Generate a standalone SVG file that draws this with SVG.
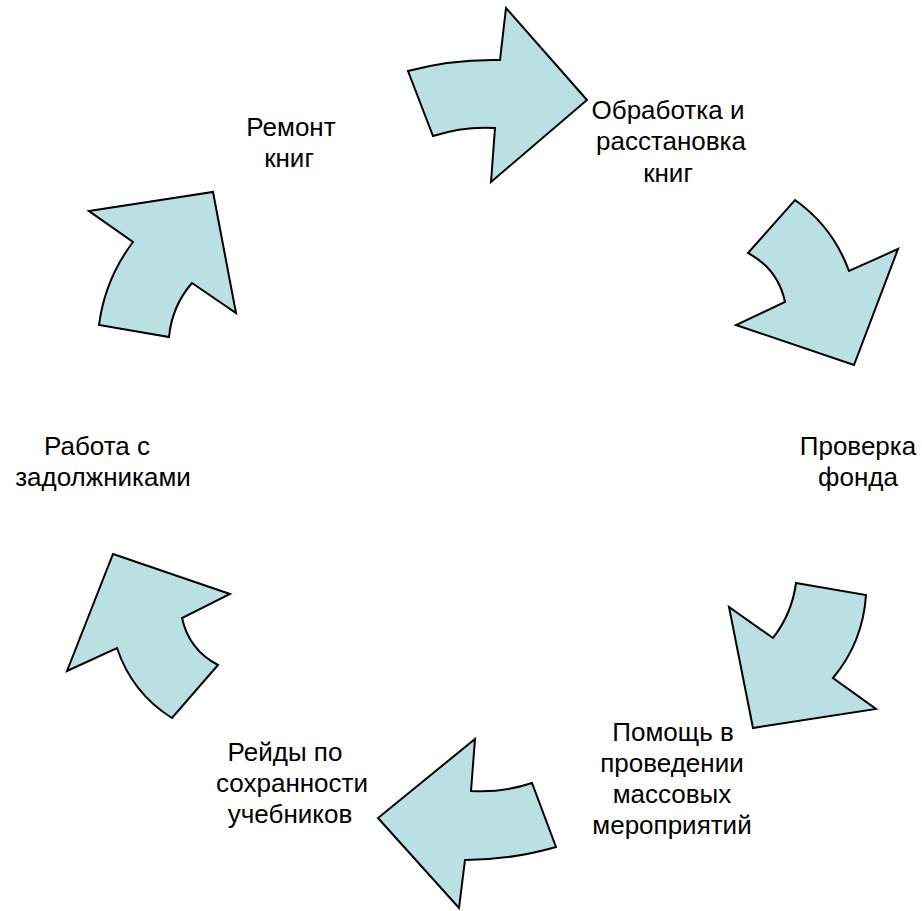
<svg xmlns="http://www.w3.org/2000/svg" width="922" height="911" viewBox="0 0 922 911">
<style>
.arrow{fill:#BBE0E3;stroke:#000;stroke-width:2;stroke-linejoin:miter}
.lbl{font-family:"Liberation Sans",Arial,sans-serif;font-size:26px;fill:#000;text-anchor:middle}
</style>
<rect width="922" height="911" fill="#fff"/>
<g id="connectors">
<path id="arrow-top" class="arrow" d="M408,71 Q452,59 500,60 L506,8 L587,100 L491,182 L495,128 Q464,126 433,136 Z"/>
<path id="arrow-upper-right" class="arrow" d="M795,200 Q833,227 849,271 L898,249 L854,365 L736,325 L785,302 Q778,269 748,253 Z"/>
<path id="arrow-lower-right" class="arrow" d="M796,583 L866,595 Q863,642 833,678 L876,709 L753,728 L729,607 L773,638 Q792,613.5 796,583 Z"/>
<path id="arrow-bottom" class="arrow" d="M475,739 L471,791 Q502,793 532,783 L556,847 Q511,860 465,860 L459,908 L378,818 Z"/>
<path id="arrow-lower-left" class="arrow" d="M113,554 L230,594 L182,618 Q189,650 218,665 L172,718 Q132,693 117,648 L67,671 Z"/>
<path id="arrow-upper-left" class="arrow" d="M89,211 L213,192 L236,313 L192,283 Q172,306 169,337 L99,325 Q105,279 133,242 Z"/>
</g>
<g id="node-remont"><text class="lbl"><tspan x="291" y="136">Ремонт</tspan><tspan x="289" y="167">книг</tspan></text></g>
<g id="node-obrabotka"><text class="lbl"><tspan x="668" y="119">Обработка и</tspan><tspan x="671" y="150">расстановка</tspan><tspan x="668" y="182">книг</tspan></text></g>
<g id="node-proverka"><text class="lbl"><tspan x="858" y="455">Проверка</tspan><tspan x="858" y="486">фонда</tspan></text></g>
<g id="node-pomosh"><text class="lbl"><tspan x="673" y="741">Помощь в</tspan><tspan x="672" y="772">проведении</tspan><tspan x="672" y="803">массовых</tspan><tspan x="672" y="834">мероприятий</tspan></text></g>
<g id="node-reidy"><text class="lbl"><tspan x="285" y="761">Рейды по</tspan><tspan x="292" y="792">сохранности</tspan><tspan x="290" y="823">учебников</tspan></text></g>
<g id="node-rabota"><text class="lbl"><tspan x="97" y="455">Работа с</tspan><tspan x="103" y="486">задолжниками</tspan></text></g>
</svg>
